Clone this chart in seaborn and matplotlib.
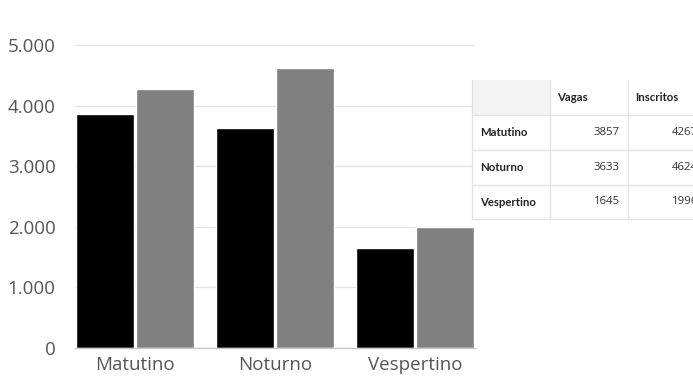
import matplotlib
matplotlib.use("Agg")
import matplotlib.pyplot as plt
from matplotlib.patches import Rectangle
from matplotlib.ticker import FuncFormatter
from matplotlib import font_manager as fm
import seaborn as sns
import pandas as pd

# Shift data
turnos = ["Matutino", "Noturno", "Vespertino"]
vagas = [3857, 3633, 1645]
inscritos = [4267, 4624, 1996]
series = ["Vagas", "Inscritos"]
y_ticks = [0, 1000, 2000, 3000, 4000, 5000]

df = pd.DataFrame({
    "Turno": turnos * 2,
    "Serie": [series[0]] * 3 + [series[1]] * 3,
    "Valor": vagas + inscritos,
})

sns.set_theme(style="white")
plt.rcParams["font.family"] = ["Open Sans", "DejaVu Sans"]

W, H = 693, 388
fig = plt.figure(figsize=(W / 100, H / 100), dpi=100)
ax = fig.add_axes([75 / W, 1 - 348 / H, 400 / W, (348 - 45) / H])

sns.barplot(data=df, x="Turno", y="Valor", hue="Serie", order=turnos,
            hue_order=series, palette=["#000000", "#808080"],
            width=0.86, gap=0.03, saturation=1, legend=False, ax=ax)

ax.set_xlim(-0.5 + 10 / 140, 2.5 - 10 / 140)
ax.set_ylim(0, 5000)
ax.set_yticks(y_ticks)
ax.yaxis.set_major_formatter(FuncFormatter(lambda v, p: f"{int(v):,}".replace(",", ".")))
ax.set_xlabel("")
ax.set_ylabel("")
for s in ["top", "right", "left"]:
    ax.spines[s].set_visible(False)
ax.spines["bottom"].set_color("#c8c8c8")
ax.spines["bottom"].set_linewidth(1.0)
ax.grid(axis="y", color="#e3e3e3", linewidth=1.0)
ax.set_axisbelow(True)
ax.tick_params(axis="y", length=0, pad=14, labelsize=13.5, labelcolor="#555555")
ax.tick_params(axis="x", length=0, pad=6, labelsize=13.5, labelcolor="#555555")

# Data table drawn on an overlay in pixel coordinates
ov = fig.add_axes([0, 0, 1, 1], zorder=5)
ov.set_xlim(0, W)
ov.set_ylim(H, 0)
ov.axis("off")

col_x = [472, 550, 628, 706]
row_y = [80, 115, 150, 185, 219]
line_c = "#e2e2e2"

ov.add_patch(Rectangle((col_x[0], row_y[0]), col_x[1] - col_x[0], row_y[1] - row_y[0],
                       facecolor="#f3f3f3", edgecolor="none"))
ov.add_patch(Rectangle((col_x[1], row_y[0]), col_x[3] - col_x[1], row_y[1] - row_y[0],
                       facecolor="white", edgecolor="none"))
ov.add_patch(Rectangle((col_x[0], row_y[1]), col_x[3] - col_x[0], row_y[4] - row_y[1],
                       facecolor="white", edgecolor="none"))
for yy in row_y[1:]:
    ov.plot([col_x[0], col_x[3]], [yy, yy], color=line_c, lw=1.0)
for xx in col_x[:3]:
    ov.plot([xx, xx], [row_y[0], row_y[4]], color=line_c, lw=1.0)

bold = fm.FontProperties(family=["Lato", "DejaVu Sans"], weight=700, size=8.2)
regular = fm.FontProperties(family=["Open Sans", "DejaVu Sans"], weight=400, size=8.2)
for j, name in enumerate(series):
    ov.text(col_x[j + 1] + 7, (row_y[0] + row_y[1]) / 2, name, fontproperties=bold,
            color="#222222", ha="left", va="center")
cell_clip = Rectangle((col_x[0], row_y[0]), col_x[1] - col_x[0] - 1, row_y[4] - row_y[0],
                      transform=ov.transData, facecolor="none", edgecolor="none")
for i, t in enumerate(turnos):
    cy = (row_y[i + 1] + row_y[i + 2]) / 2
    lbl = ov.text(col_x[0] + 8, cy, t, fontproperties=bold,
                  color="#222222", ha="left", va="center")
    lbl.set_clip_path(cell_clip)
    for j, vals in enumerate([vagas, inscritos]):
        ov.text(col_x[j + 2] - 8, cy, str(vals[i]), fontproperties=regular,
                color="#333333", ha="right", va="center")

fig.savefig("out.png", dpi=100)
